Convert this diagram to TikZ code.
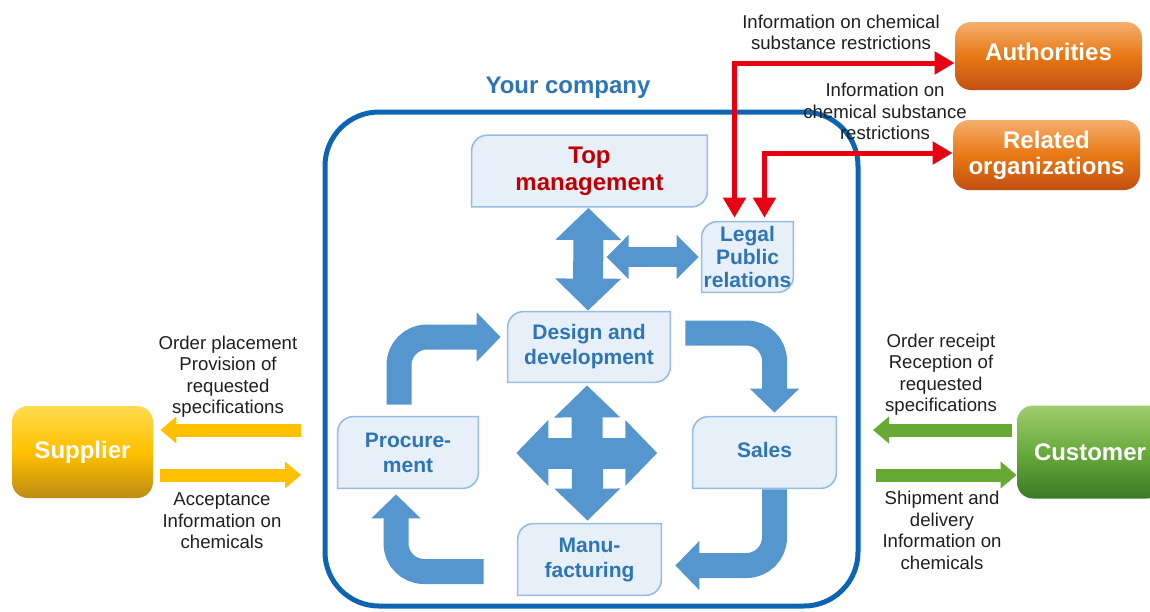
\documentclass[tikz,border=0pt]{standalone}
\usepackage{fontspec}
\setmainfont{Liberation Sans}
\usetikzlibrary{positioning,calc,arrows.meta,backgrounds}

\definecolor{frameblue}{RGB}{12,101,178}
\definecolor{textblue}{RGB}{46,117,182}
\definecolor{arrowblue}{RGB}{86,150,206}
\definecolor{panelfill}{RGB}{231,239,249}
\definecolor{panelline}{RGB}{150,188,228}
\definecolor{topred}{RGB}{192,0,0}
\definecolor{infored}{RGB}{230,0,18}
\definecolor{supyellow}{RGB}{255,192,0}
\definecolor{cusgreen}{RGB}{102,170,51}

\tikzstyle{panel} = [inner sep=0, align=center, text=textblue, font=\bfseries\fontsize{10.5}{12.5}\selectfont]
\tikzstyle{party} = [rounded corners=8pt, inner sep=0, align=center, text=white, font=\bfseries\fontsize{12}{13}\selectfont]
\tikzstyle{note} = [align=center, text=black!88, font=\fontsize{9.3}{10.75}\selectfont]
\tikzstyle{flow} = [arrowblue, line width=12.5pt, rounded corners=14pt, -{Triangle[length=12pt,width=24pt]}]
\tikzstyle{bigtwoway} = [arrowblue, line width=15.5pt, {Triangle[length=16pt,width=32pt]}-{Triangle[length=16pt,width=32pt]}]
\tikzstyle{smalltwoway} = [arrowblue, line width=10pt, {Triangle[length=11pt,width=21.5pt]}-{Triangle[length=11pt,width=21.5pt]}]
\tikzstyle{supply} = [line width=6.5pt, -{Triangle[length=8pt,width=13pt]}]
\tikzstyle{info} = [infored, line width=2.5pt, {Triangle[length=10pt,width=11pt]}-{Triangle[length=10pt,width=11pt]}]

\begin{document}
\begin{tikzpicture}[x=0.5pt,y=-0.5pt]
    \useasboundingbox (0,0) rectangle (1150,611);

    \node [draw=frameblue, line width=2.5pt, rounded corners=27pt, minimum width=266.5pt, minimum height=247pt] (company) at (591.5,359) {};
    \node [text=textblue, font=\bfseries\fontsize{12}{14}\selectfont] (title) at (568,88) {Your company};

    \node [panel, minimum width=117.5pt, minimum height=35.5pt, text=topred, font=\bfseries\fontsize{12}{13.5}\selectfont] (topmgmt) at (589.5,171) {Top\\management};
    \node [panel, minimum width=45.5pt, minimum height=35pt, font=\bfseries\fontsize{10.5}{11.5}\selectfont] (legal) at (747.5,257) {Legal\\Public\\relations};
    \node [panel, minimum width=81pt, minimum height=35pt] (design) at (589,347) {Design and\\development};
    \node [panel, minimum width=70pt, minimum height=35.5pt] (proc) at (408,452.5) {Procure-\\ment};
    \node [panel, minimum width=71.5pt, minimum height=35.5pt, text depth=3pt] (sales) at (764.5,452.5) {Sales};
    \node [panel, minimum width=71.5pt, minimum height=35.5pt] (manu) at (589.5,559.5) {Manu-\\facturing};

    \begin{scope}[on background layer]
        \foreach \n in {topmgmt,legal,design,proc,sales,manu}
            \draw [panelline, fill=panelfill, line width=0.8pt] (\n.north east) -- ($(\n.south east)+(0,-16)$) .. controls ($(\n.south east)+(0,-7)$) and ($(\n.south east)+(-7,0)$) .. ($(\n.south east)+(-16,0)$) -- (\n.south west) -- ($(\n.north west)+(0,16)$) .. controls ($(\n.north west)+(0,7)$) and ($(\n.north west)+(7,0)$) .. ($(\n.north west)+(16,0)$) -- cycle;
    \end{scope}

    \node [party, minimum width=70.5pt, minimum height=46pt, top color={rgb,255:red,255;green,220;blue,80}, bottom color={rgb,255:red,190;green,140;blue,20}, middle color=supyellow] (supplier) at (82.5,452) {Supplier};
    \node [party, minimum width=73pt, minimum height=46.5pt, top color={rgb,255:red,160;green,205;blue,110}, bottom color={rgb,255:red,58;green,122;blue,38}, middle color={rgb,255:red,105;green,170;blue,60}] (customer) at (1090,452) {Customer};
    \node [party, minimum width=93.5pt, minimum height=34pt, text depth=4pt, top color={rgb,255:red,245;green,175;blue,110}, bottom color={rgb,255:red,195;green,80;blue,20}, middle color={rgb,255:red,232;green,120;blue,20}] (auth) at (1048.5,56) {Authorities};
    \node [party, minimum width=93.5pt, minimum height=35pt, top color={rgb,255:red,245;green,175;blue,110}, bottom color={rgb,255:red,195;green,80;blue,20}, middle color={rgb,255:red,232;green,120;blue,20}] (related) at (1046.5,155) {Related\\organizations};

    \draw [bigtwoway, line width=15pt] ($(topmgmt.south)+(-1,1)$) -- ($(design.north)+(-1,-1)$);
    \draw [smalltwoway] ($(legal.west)+(-95,0)$) -- ($(legal.west)+(-3,0)$);

    \coordinate (hub) at ($(design.south)!0.5!(manu.north)$);
    \draw [bigtwoway] ($(design.south)+(-2,3)$) -- ($(manu.north)+(-2,-3)$);
    \draw [bigtwoway] ($(hub)+(-73,0)$) -- ($(hub)+(68,0)$);

    \draw [flow] ($(proc.north)+(-9,-12)$) |- ($(design.west)+(-7,-10)$);
    \draw [flow] ($(design.east)+(15,-14)$) -| ($(sales.north)+(10,-4)$);
    \draw [flow] ($(sales.south)+(10,1)$) |- ($(manu.east)+(14,6)$);
    \draw [flow] ($(manu.west)+(-34,12)$) -| ($(proc.south)+(-12,6)$);

    \coordinate (supin) at (301,430);
    \coordinate (supout) at (301,475);
    \coordinate (cusout) at (873,430);
    \coordinate (cusin) at (876,475);
    \draw [supply, supyellow] (supin) -- ($(supplier.east)+(7,-22)$);
    \draw [supply, supyellow] ($(supplier.east)+(7,23)$) -- (supout);
    \draw [supply, cusgreen] ($(customer.west)+(-5,-22)$) -- (cusout);
    \draw [supply, cusgreen] (cusin) -- ($(customer.west)+(0,23)$);

    \draw [info] ($(auth.west)+(0,7)$) -| ($(legal.north)+(-13,-4)$);
    \draw [info] ($(related.west)+(0,-2)$) -| ($(legal.north)+(17,-4)$);

    \node [note] (orderout) at (228,376.5) {Order placement\\Provision of\\requested\\specifications};
    \node [note] (accept) at (222,521) {Acceptance\\Information on\\chemicals};
    \node [note] (orderin) at (941,374.5) {Order receipt\\Reception of\\requested\\specifications};
    \node [note] (ship) at (942,530.5) {Shipment and\\delivery\\Information on\\chemicals};
    \node [note] (authinfo) at (841,32.5) {Information on chemical\\substance restrictions};
    \node [note] (relinfo) at (885,111.5) {Information on\\chemical substance\\restrictions};
\end{tikzpicture}
\end{document}
